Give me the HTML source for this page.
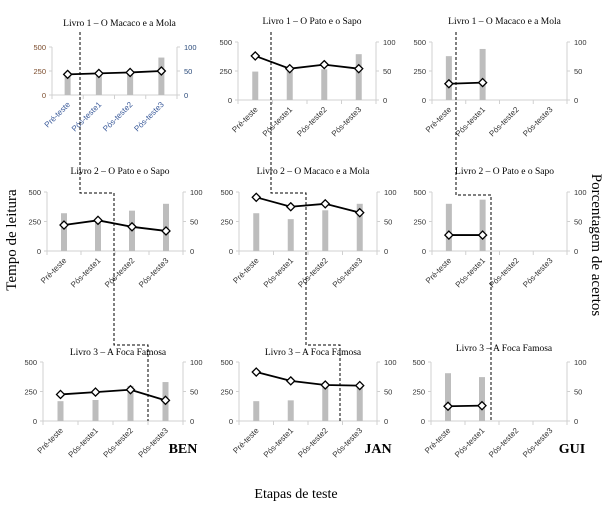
<!DOCTYPE html>
<html><head><meta charset="utf-8"><style>
html,body{margin:0;padding:0;background:#fff;}
svg{display:block;}
</style></head><body>
<svg id="chart" width="608" height="507" viewBox="0 0 608 507" xmlns="http://www.w3.org/2000/svg"></svg>
<script>
const categories = ["Pré-teste","Pós-teste1","Pós-teste2","Pós-teste3"];
const leftTicks = [0,250,500];
const rightTicks = [0,50,100];
const titles = [
 "Livro 1 – O Macaco e a Mola","Livro 1 – O Pato e o Sapo","Livro 1 – O Macaco e a Mola",
 "Livro 2 – O Pato e o Sapo","Livro 2 – O Macaco e a Mola","Livro 2 – O Pato e o Sapo",
 "Livro 3 – A Foca Famosa","Livro 3 – A Foca Famosa","Livro 3 – A Foca Famosa"];
const students = ["BEN","JAN","GUI"];
// reading time (bars, left axis)
const timeBen1 = [210,230,235,390];
const timeJan1 = [245,260,265,395];
const timeGui1 = [378,440];
const timeBen2 = [320,260,342,400];
const timeJan2 = [320,270,345,400];
const timeGui2 = [400,435];
const timeBen3 = [168,178,297,330];
const timeJan3 = [168,175,300,305];
const timeGui3 = [405,372];
// percentage of correct answers (line, right axis)
const pctBen1 = [43,45,47,50];
const pctJan1 = [76,54,61,54];
const pctGui1 = [28,30];
const pctBen2 = [44,52,41,34];
const pctJan2 = [91,75,80,65];
const pctGui2 = [27,27];
const pctBen3 = [45,49,53,35];
const pctJan3 = [83,68,61,60];
const pctGui3 = [25,26];
const timeSeries = [timeBen1,timeJan1,timeGui1,timeBen2,timeJan2,timeGui2,timeBen3,timeJan3,timeGui3];
const pctSeries = [pctBen1,pctJan1,pctGui1,pctBen2,pctJan2,pctGui2,pctBen3,pctJan3,pctGui3];

// panel geometry: left axis x, right axis x, y of 0, y of max, title baseline
const geo = [
 {l:52,r:177,y0:95,y1:47,ty:26},{l:238,r:376,y0:100,y1:42,ty:24},{l:432,r:567,y0:100,y1:42,ty:24},
 {l:47,r:183,y0:251,y1:192,ty:174},{l:239,r:377,y0:251,y1:192,ty:174},{l:432,r:567,y0:251,y1:192,ty:174},
 {l:43,r:183,y0:421,y1:362,ty:355},{l:239,r:377,y0:421,y1:362,ty:355},{l:431,r:567,y0:421,y1:362,ty:351}];

const NS="http://www.w3.org/2000/svg";
const svg=document.getElementById('chart');
function mk(tag,attrs,parent){const e=document.createElementNS(NS,tag);for(const k in attrs)e.setAttribute(k,attrs[k]);(parent||svg).appendChild(e);return e;}

geo.forEach((g,i)=>{
 const grp=mk('g',{});
 
 
 const n=categories.length;
 const step=(g.r-g.l)/n;
 const xC=k=>g.l+step*(k+0.5);
 const yL=v=>g.y0-(v/500)*(g.y0-g.y1);
 const yR=v=>g.y0-(v/100)*(g.y0-g.y1);
 const t=mk('text',{x:(g.l+g.r)/2+5,y:g.ty,'text-anchor':'middle','font-family':'Liberation Serif, serif','font-size':'9.5',fill:'#000'},grp);
 t.textContent=titles[i];
 
 
 const la=mk('line',{x1:g.l,y1:g.y0,x2:g.l,y2:g.y1,stroke:'#d0d0d0','stroke-width':1},grp);
 
 
 const ra=mk('line',{x1:g.r,y1:g.y0,x2:g.r,y2:g.y1,stroke:'#d0d0d0','stroke-width':1},grp);
 
 
 const xa=mk('line',{x1:g.l,y1:g.y0,x2:g.r,y2:g.y0,stroke:'#d0d0d0','stroke-width':1},grp);
 
 
 for(let k=0;k<=n;k++){mk('line',{x1:g.l+step*k,y1:g.y0,x2:g.l+step*k,y2:g.y0+4,stroke:'#d0d0d0'},grp);}
 leftTicks.forEach(v=>{
  mk('line',{x1:g.l-3,y1:yL(v),x2:g.l,y2:yL(v),stroke:'#d0d0d0'},grp);
  const tx=mk('text',{x:g.l-6,y:yL(v)+3,'text-anchor':'end','font-family':'Liberation Sans, sans-serif','font-size':'7.5',fill:i===0?'#7a4a2a':'#333'},grp);
  tx.textContent=v;
  
  
 });
 rightTicks.forEach(v=>{
  mk('line',{x1:g.r,y1:yR(v),x2:g.r+3,y2:yR(v),stroke:'#d0d0d0'},grp);
  const tx=mk('text',{x:g.r+7,y:yR(v)+3,'text-anchor':'start','font-family':'Liberation Sans, sans-serif','font-size':'7.5',fill:i===0?'#2a4a7a':'#333'},grp);
  tx.textContent=v;
  
  
 });
 categories.forEach((c,k)=>{
  const x=xC(k)+3,y=g.y0+10;
  const tx=mk('text',{x:x,y:y,'text-anchor':'end','font-family':'Liberation Sans, sans-serif','font-size':'8',fill:i===0?'#3a5a9a':'#333',transform:`rotate(-45 ${x} ${y})`},grp);
  tx.textContent=c;
  
  
 });
 timeSeries[i].forEach((v,k)=>{
  const b=mk('rect',{x:xC(k)-3,y:yL(v),width:6,height:g.y0-yL(v),fill:'#bdbdbd'},grp);
  
  
 });
 const p=pctSeries[i];
 const pl=mk('polyline',{points:p.map((v,k)=>xC(k)+','+yR(v)).join(' '),fill:'none',stroke:'#000','stroke-width':1.8},grp);
 
 
 p.forEach((v,k)=>{
  const x=xC(k),y=yR(v),s=4;
  const d=mk('polygon',{points:`${x},${y-s} ${x+s},${y} ${x},${y+s} ${x-s},${y}`,fill:'#fff',stroke:'#000','stroke-width':1.3},grp);
  
  
 });
});

const dashPaths=[
 "M80,32 V193 H114 V345 H148 V421",
 "M271,32 V193 H306 V345 H340 V421",
 "M456,32 V195 H491 V421"];
dashPaths.forEach(d=>{
 const e=mk('path',{d:d,fill:'none',stroke:'#000','stroke-width':1,'stroke-dasharray':'3,2'});
 
 
});

[[183,453],[378,453],[572,453]].forEach((pos,i)=>{
 const t=mk('text',{x:pos[0],y:pos[1],'text-anchor':'middle','font-family':'Liberation Serif, serif','font-size':'14','font-weight':'bold',fill:'#000'});
 t.textContent=students[i];
 
 
});

const yt=mk('text',{x:16,y:240,'text-anchor':'middle','font-family':'Liberation Serif, serif','font-size':'15',fill:'#000',transform:'rotate(-90 16 240)'});
yt.textContent="Tempo de leitura";


const yt2=mk('text',{x:592,y:245,'text-anchor':'middle','font-family':'Liberation Serif, serif','font-size':'15',fill:'#000',transform:'rotate(90 592 245)'});
yt2.textContent="Porcentagem de acertos";


const xt=mk('text',{x:296,y:498,'text-anchor':'middle','font-family':'Liberation Serif, serif','font-size':'14',fill:'#000'});
xt.textContent="Etapas de teste";


</script>
</body></html>
